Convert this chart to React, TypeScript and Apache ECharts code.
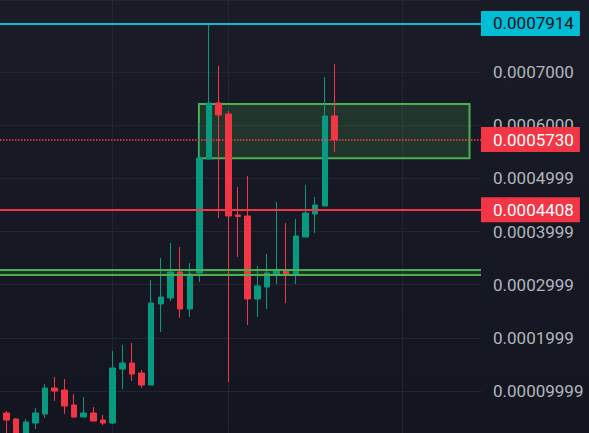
import React, { useEffect, useRef } from "react";
import * as echarts from "echarts";

// ---- data ----
const candleIndex = [
  0, 1, 2, 3, 4, 5, 6, 7, 8, 9, 10, 11, 12, 13, 14, 15, 16, 17,
  18, 19, 20, 21, 22, 23, 24, 25, 26, 27, 28, 29, 30, 31, 32, 33, 34, 35,
];
const opens = [
  0.0000756, 0.0000587, 0.0000474, 0.0000154, 0.0000399, 0.0000568, 0.0001057, 0.0001019, 0.0000737,
  0.0000512, 0.0000587, 0.0000455, 0.0000399, 0.0001414, 0.0001527, 0.0001339, 0.0001113, 0.0002637,
  0.000275, 0.0003239, 0.0002543, 0.000322, 0.0005364, 0.0006418, 0.0006211, 0.0004311, 0.0004292,
  0.0002731, 0.0002957, 0.0003201, 0.0003258, 0.0003201, 0.0003897, 0.000433, 0.000448, 0.0006173,
];
const closes = [
  0.0000587, 0.0000455, 0.0000154, 0.0000418, 0.0000587, 0.0001057, 0.0001001, 0.0000719, 0.0000512,
  0.0000587, 0.0000436, 0.0000399, 0.0001433, 0.0001527, 0.000132, 0.0001113, 0.0002656, 0.0002769,
  0.0003239, 0.0002543, 0.0003201, 0.0005383, 0.0006418, 0.0006192, 0.0004292, 0.0004283, 0.0002731,
  0.0002976, 0.000322, 0.0003276, 0.0003201, 0.0003916, 0.0004349, 0.0004499, 0.0006173, 0.000573,
];
const lows = [
  0.000053, 0.0000117, 0.0000041, 0.0000079, 0.0000286, 0.0000493, 0.0000813, 0.0000568, 0.0000493,
  0.0000512, 0.0000436, 0.0000361, 0.000038, 0.0001038, 0.0001189, 0.0001057, 0.0001113, 0.000211,
  0.0002693, 0.0002374, 0.0002392, 0.0003051, 0.0005364, 0.0004255, 0.000117, 0.0003521, 0.0002242,
  0.0002392, 0.0002543, 0.0003013, 0.0002656, 0.0003013, 0.0003897, 0.0003972, 0.000448, 0.0005496,
];
const highs = [
  0.0000831, 0.0000624, 0.0000493, 0.0000474, 0.0000681, 0.0001132, 0.0001264, 0.0001226, 0.0000944,
  0.0000888, 0.00007, 0.0000549, 0.0001753, 0.0001866, 0.0001903, 0.0001396, 0.0003088, 0.0003502,
  0.0003784, 0.0003709, 0.0003408, 0.0006041, 0.0007914, 0.0007114, 0.0006267, 0.0004838, 0.0005045,
  0.0003352, 0.0003577, 0.0004556, 0.0004161, 0.0004236, 0.0004875, 0.000465, 0.0006907, 0.0007151,
];

// price levels
const athLevel = 0.0007914;
const lastPrice = 0.000573;
const supportLevel = 0.0004408;
const levelLabels = ["0.0007914", "0.0005730", "0.0004408"];
// green zones
const upperZoneX = [20.95, 49];
const upperZoneY = [0.00064, 0.000538];
const lowerBandY = [0.0003276, 0.0003188];
// time-grid positions (candle index)
const verticalGridIdx = [12, 24, 42];

// y axis tick labels, for ticks 0.0001 .. 0.0008
const tickValues = [0.0001, 0.0002, 0.0003, 0.0004, 0.0005, 0.0006, 0.0007, 0.0008];
const tickLabels = [
  "0.00009999", "0.0001999", "0.0002999", "0.0003999", "0.0004999", "0.0006000", "0.0007000", "0.0008000",
];

// view ranges
const X_MIN = 0.3265;
const X_MAX = 50.19;
const Y_MIN = 0.0000211;
const Y_MAX = 0.0008354;

const UP = "#089981";
const DOWN = "#f23645";
const ZONE = "#4caf50";
const FONT = "Roboto";

export default function App() {
  const ref = useRef<HTMLDivElement>(null);

  useEffect(() => {
    document.body.style.margin = "0";
    if (!ref.current) return;
    const chart = echarts.init(ref.current, undefined, { renderer: "svg" });

    const data = candleIndex.map((i, k) => [i, opens[k], closes[k], lows[k], highs[k]]);

    const boxLabel = (text: string, bg: string, fg: string) => ({
      show: true,
      position: "end",
      distance: 0,
      formatter: text,
      backgroundColor: bg,
      color: fg,
      fontFamily: FONT,
      fontSize: 17,
      padding: [5, 6, 3, 12],
      lineHeight: 17,
    });

    chart.setOption({
      animation: false,
      backgroundColor: new echarts.graphic.LinearGradient(0, 0, 0, 1, [
        { offset: 0, color: "#191c27" },
        { offset: 1, color: "#131620" },
      ]),
      grid: { left: 0, right: 108, top: 0, bottom: 0, containLabel: false },
      xAxis: {
        type: "value",
        min: X_MIN,
        max: X_MAX,
        show: false,
        splitLine: { show: false },
      },
      yAxis: {
        type: "value",
        position: "right",
        min: Y_MIN,
        max: Y_MAX,
        minInterval: 0.0001,
        maxInterval: 0.0001,
        splitNumber: 8,
        scale: true,
        axisLine: { show: false },
        axisTick: { show: false },
        splitLine: { show: true, lineStyle: { color: "#232632", width: 1 } },
        axisLabel: {
          show: true,
          margin: 12,
          color: "#b2b5be",
          fontSize: 17,
          fontFamily: FONT,
          showMinLabel: false,
          showMaxLabel: false,
          formatter: (v: number) => {
            const k = tickValues.findIndex((t) => Math.abs(t - v) < 1e-9);
            return k >= 0 ? tickLabels[k] : "";
          },
        },
      },
      series: [
        {
          type: "line",
          data: [],
          silent: true,
          markLine: {
            silent: true,
            symbol: "none",
            z: 0,
            label: { show: false },
            lineStyle: { color: "#232632", width: 1, type: "solid" },
            data: verticalGridIdx.map((x) => ({ xAxis: x })),
          },
        },
        {
          type: "candlestick",
          data,
          barWidth: 6,
          clip: true,
          itemStyle: {
            color: UP,
            color0: DOWN,
            borderColor: UP,
            borderColor0: DOWN,
            borderWidth: 1,
          },
          markArea: {
            silent: true,
            data: [
              [
                {
                  xAxis: upperZoneX[0],
                  yAxis: upperZoneY[0],
                  itemStyle: { color: "rgba(76,175,80,0.18)", borderColor: ZONE, borderWidth: 2 },
                },
                { xAxis: upperZoneX[1], yAxis: upperZoneY[1] },
              ],
              [
                {
                  xAxis: X_MIN,
                  yAxis: lowerBandY[0],
                  itemStyle: { color: "rgba(76,175,80,0.18)", borderWidth: 0 },
                },
                { xAxis: X_MAX, yAxis: lowerBandY[1] },
              ],
            ],
          },
          markLine: {
            silent: true,
            symbol: "none",
            precision: 10,
            data: [
              {
                yAxis: lowerBandY[0],
                lineStyle: { color: ZONE, width: 2, type: "solid" },
                label: { show: false },
              },
              {
                yAxis: lowerBandY[1],
                lineStyle: { color: ZONE, width: 2, type: "solid" },
                label: { show: false },
              },
              {
                yAxis: athLevel,
                lineStyle: { color: "#00bcd4", width: 2, type: "solid" },
                label: boxLabel(levelLabels[0], "#00bcd4", "#0e1118"),
              },
              {
                yAxis: lastPrice,
                lineStyle: { color: "#ff3b4e", width: 1.5, type: [1.5, 1.5], opacity: 1 },
                label: boxLabel(levelLabels[1], DOWN, "#ffffff"),
              },
              {
                yAxis: supportLevel,
                lineStyle: { color: DOWN, width: 2, type: "solid" },
                label: boxLabel(levelLabels[2], DOWN, "#ffffff"),
              },
            ],
          },
        },
      ],
    });

    return () => chart.dispose();
  }, []);

  return <div ref={ref} style={{ width: 589, height: 433 }} />;
}
